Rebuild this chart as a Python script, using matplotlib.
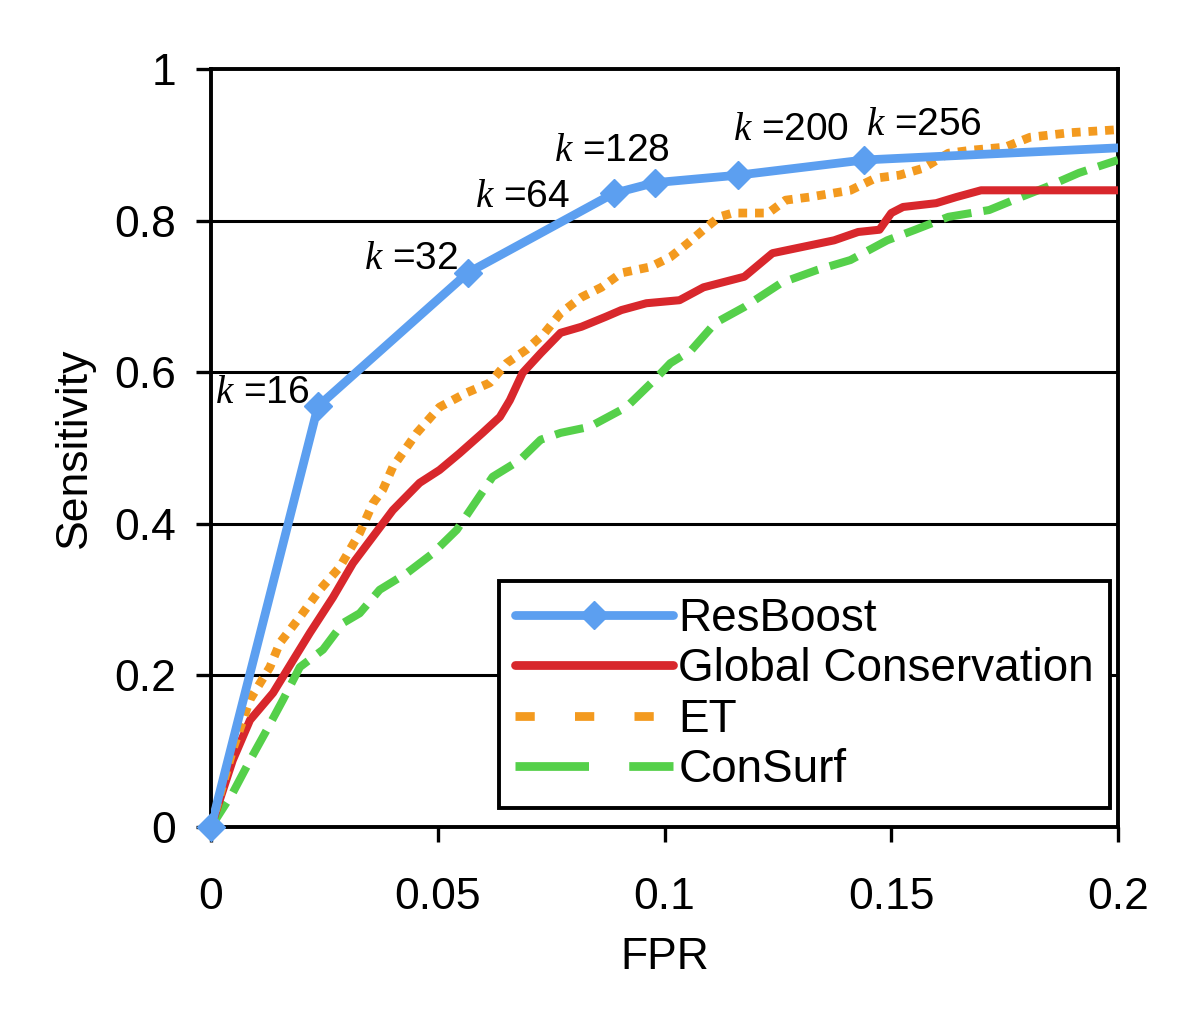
import matplotlib
matplotlib.use("Agg")
import matplotlib.pyplot as plt
from matplotlib.lines import Line2D
import numpy as np

plt.rcParams['font.family'] = ['Liberation Sans', 'DejaVu Sans']
plt.rcParams['mathtext.fontset'] = 'custom'
plt.rcParams['mathtext.it'] = 'Liberation Serif:italic'
plt.rcParams['mathtext.rm'] = 'Liberation Sans'

# ResBoost points (one per k)
rb_fpr = [0.0, 0.0236, 0.0566, 0.0888, 0.0978, 0.1163, 0.1440, 0.2000]
rb_sens = [0.0, 0.555, 0.731, 0.836, 0.850, 0.860, 0.880, 0.896]
k_labels = ['16', '32', '64', '128', '200', '256']
k_label_x = [0.0010, 0.0337, 0.0582, 0.0756, 0.1152, 0.1445]
k_label_y = [0.572, 0.750, 0.831, 0.892, 0.920, 0.926]

gc_fpr = [0.0, 0.0048, 0.0086, 0.0137, 0.0181, 0.0218, 0.0269, 0.0313, 0.0357,
          0.0401, 0.0460, 0.0504, 0.0548, 0.0599, 0.0637, 0.0659, 0.0687, 0.0727,
          0.0771, 0.0817, 0.0870, 0.0905, 0.0960, 0.1033, 0.1086, 0.1176, 0.1238,
          0.1302, 0.1374, 0.1427, 0.1474, 0.1500, 0.1526, 0.1599, 0.1643, 0.1698,
          0.2000]
gc_sens = [0.0, 0.088, 0.141, 0.177, 0.220, 0.256, 0.303, 0.348, 0.383,
           0.418, 0.454, 0.471, 0.493, 0.520, 0.541, 0.563, 0.599, 0.625,
           0.652, 0.660, 0.673, 0.682, 0.691, 0.695, 0.712, 0.726, 0.757,
           0.765, 0.774, 0.785, 0.788, 0.810, 0.818, 0.823, 0.831, 0.840,
           0.840]

et_fpr = [0.0, 0.0048, 0.0086, 0.0130, 0.0152, 0.0196, 0.0240, 0.0284, 0.0328,
          0.0357, 0.0379, 0.0401, 0.0454, 0.0504, 0.0564, 0.0615, 0.0652, 0.0696,
          0.0736, 0.0771, 0.0817, 0.0861, 0.0905, 0.0969, 0.1013, 0.1051, 0.1086,
          0.1121, 0.1150, 0.1229, 0.1267, 0.1319, 0.1410, 0.1465, 0.1518, 0.1570,
          0.1626, 0.1678, 0.1751, 0.1806, 0.1894, 0.2000]
et_sens = [0.0, 0.102, 0.168, 0.211, 0.243, 0.277, 0.313, 0.343, 0.388,
           0.427, 0.445, 0.475, 0.520, 0.554, 0.573, 0.586, 0.612, 0.630,
           0.652, 0.678, 0.699, 0.712, 0.731, 0.739, 0.752, 0.770, 0.788,
           0.805, 0.810, 0.810, 0.827, 0.831, 0.840, 0.856, 0.860, 0.869,
           0.889, 0.893, 0.897, 0.910, 0.916, 0.920]

cs_fpr = [0.0, 0.0048, 0.0086, 0.0123, 0.0159, 0.0196, 0.0247, 0.0291, 0.0328,
          0.0372, 0.0432, 0.0489, 0.0542, 0.0586, 0.0621, 0.0681, 0.0727, 0.0771,
          0.0835, 0.0916, 0.0978, 0.1013, 0.1059, 0.1112, 0.1176, 0.1258, 0.1337,
          0.1410, 0.1491, 0.1553, 0.1626, 0.1716, 0.1769, 0.1841, 0.1914, 0.2000]
cs_sens = [0.0, 0.045, 0.088, 0.128, 0.168, 0.211, 0.234, 0.269, 0.282,
           0.313, 0.335, 0.361, 0.392, 0.431, 0.462, 0.484, 0.511, 0.520,
           0.528, 0.554, 0.590, 0.612, 0.629, 0.665, 0.686, 0.718, 0.735,
           0.748, 0.774, 0.788, 0.805, 0.814, 0.827, 0.844, 0.863, 0.880]

c_blue = '#5c9ff0'
c_red = '#d8272c'
c_orange = '#f39a1f'
c_green = '#55d04a'

fig = plt.figure(figsize=(12, 10.15), dpi=100)
ax = fig.add_axes([0.1758, 0.1852, 0.7559, 0.7468])

for yv in [0.2, 0.4, 0.6, 0.8]:
    ax.axhline(yv, color='black', lw=2.2, zorder=1)

ax.plot(cs_fpr, cs_sens, color=c_green, lw=5.8, dashes=(3.6, 1.5),
        dash_capstyle='butt', zorder=3)
ax.plot(gc_fpr, gc_sens, color=c_red, lw=5.8, zorder=4)
ax.plot(et_fpr, et_sens, color=c_orange, lw=6.3, dashes=(1.0, 0.9),
        dash_capstyle='butt', zorder=5)
ax.plot(rb_fpr, rb_sens, color=c_blue, lw=6.3, zorder=6)
ax.plot(rb_fpr[:-1], rb_sens[:-1], ls='none', marker='D', ms=14,
        color=c_blue, zorder=7, clip_on=False)

for lab, lx, ly in zip(k_labels, k_label_x, k_label_y):
    ax.text(lx, ly, r'$k$ =' + lab, fontsize=28, ha='left', va='center', zorder=8)

ax.set_xlim(0, 0.2)
ax.set_ylim(0, 1)
ax.set_xticks([0, 0.05, 0.1, 0.15, 0.2])
ax.set_xticklabels(['0', '0.05', '0.1', '0.15', '0.2'])
ax.set_yticks([0, 0.2, 0.4, 0.6, 0.8, 1])
ax.set_yticklabels(['0', '0.2', '0.4', '0.6', '0.8', '1'])
ax.tick_params(axis='both', labelsize=32, width=2.4, length=11, direction='out')
ax.tick_params(axis='x', pad=25)
ax.tick_params(axis='y', pad=14)
for s in ax.spines.values():
    s.set_linewidth(2.8)

ax.set_xlabel('FPR', fontsize=32, labelpad=14)
ax.set_ylabel('Sensitivity', fontsize=32, labelpad=14)

handles = [
    Line2D([], [], color=c_blue, lw=6.3, marker='D', ms=14, markevery=[1],
           solid_capstyle='round'),
    Line2D([], [], color=c_red, lw=6.3, solid_capstyle='round'),
    Line2D([], [], color=c_orange, lw=6.3, dashes=(2.2, 4.6), dash_capstyle='butt'),
    Line2D([], [], color=c_green, lw=6.3, dashes=(8.4, 4.6), dash_capstyle='butt'),
]
names = ['ResBoost', 'Global Conservation', 'ET', 'ConSurf']
leg = ax.legend(handles, names, loc='lower right', bbox_to_anchor=(0.991, 0.025),
                fontsize=33, handlelength=3.45, handletextpad=0.12,
                labelspacing=0.14, borderpad=0.35, borderaxespad=0,
                fancybox=False, framealpha=1, edgecolor='black')
leg.get_frame().set_linewidth(2.8)
leg.set_zorder(10)

fig.savefig('out.png', dpi=100)
